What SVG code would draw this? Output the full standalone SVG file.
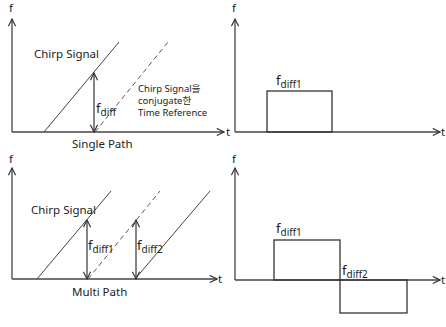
<svg xmlns="http://www.w3.org/2000/svg" width="446" height="327" viewBox="0 0 446 327">
<defs>
<marker id="chev" viewBox="0 0 10 10" refX="9" refY="5" markerWidth="9" markerHeight="9" markerUnits="userSpaceOnUse" orient="auto-start-reverse">
<path d="M1,1 L9,5 L1,9" fill="none" stroke="#333" stroke-width="1.3"/>
</marker>
</defs>
<style>
.ax{stroke:#444;stroke-width:1.3;fill:none;marker-end:url(#chev)}
.ln{stroke:#444;stroke-width:1;fill:none}
.da{stroke:#555;stroke-width:1;fill:none;stroke-dasharray:5,3.5}
.ar{stroke:#444;stroke-width:1.3;fill:none;marker-start:url(#chev);marker-end:url(#chev)}
.rc{stroke:#333;stroke-width:1.3;fill:none}
text{font-family:"Noto Sans","Noto Sans CJK KR",sans-serif;fill:#222}
.lb{font-size:11.5px}
.sm{font-size:9.5px}
.ff{font-size:13px}
.sub{font-size:10px}
</style>
<g id="connectors">
<line class="ax" x1="12" y1="132" x2="12" y2="19"/>
<line class="ax" x1="12" y1="132" x2="224" y2="132"/>
<line class="ln" x1="44" y1="132" x2="119" y2="42"/>
<line class="da" x1="95" y1="132" x2="168" y2="42"/>
<line class="ar" x1="94" y1="73" x2="94" y2="132"/>
<line class="ax" x1="235" y1="132" x2="235" y2="19"/>
<line class="ax" x1="235" y1="132" x2="440" y2="132"/>
<line class="ax" x1="12" y1="279" x2="12" y2="168"/>
<line class="ax" x1="12" y1="279" x2="217" y2="279"/>
<line class="ln" x1="37" y1="279" x2="111" y2="191"/>
<line class="da" x1="88" y1="279" x2="160" y2="191"/>
<line class="ln" x1="135" y1="279" x2="210" y2="191"/>
<line class="ar" x1="87" y1="220" x2="87" y2="279"/>
<line class="ar" x1="136" y1="220" x2="136" y2="279"/>
<line class="ax" x1="235" y1="280" x2="235" y2="168"/>
<line class="ax" x1="235" y1="280" x2="440" y2="280"/>
</g>
<g id="top-left-labels">
<text class="lb" x="9" y="12">f</text>
<text class="lb" x="226" y="136">t</text>
<text class="lb" x="34" y="58">Chirp Signal</text>
<text x="96" y="113"><tspan class="ff">f</tspan><tspan class="sub" dy="3">diff</tspan></text>
<text class="sm" x="138" y="92">Chirp Signal을</text>
<text class="sm" x="138" y="104">conjugate한</text>
<text class="sm" x="138" y="116">Time Reference</text>
<text class="lb" x="72" y="148">Single Path</text>
</g>
<g id="top-right">
<text class="lb" x="232" y="12">f</text>
<text class="lb" x="441" y="136">t</text>
<rect class="rc" x="267" y="91" width="65" height="41"/>
<text x="276" y="85"><tspan class="ff">f</tspan><tspan class="sub" dy="3">diff1</tspan></text>
</g>
<g id="bottom-left-labels">
<text class="lb" x="9" y="163">f</text>
<text class="lb" x="218" y="283">t</text>
<text class="lb" x="31" y="214">Chirp Signal</text>
<text x="88" y="250"><tspan class="ff">f</tspan><tspan class="sub" dy="3">diff1</tspan></text>
<text x="137" y="250"><tspan class="ff">f</tspan><tspan class="sub" dy="3">diff2</tspan></text>
<text class="lb" x="72" y="296">Multi Path</text>
</g>
<g id="bottom-right">
<text class="lb" x="232" y="163">f</text>
<text class="lb" x="441" y="284">t</text>
<rect class="rc" x="274" y="240" width="66" height="40"/>
<rect class="rc" x="340" y="280" width="67" height="33"/>
<text x="276" y="233"><tspan class="ff">f</tspan><tspan class="sub" dy="3">diff1</tspan></text>
<text x="342" y="275"><tspan class="ff">f</tspan><tspan class="sub" dy="3">diff2</tspan></text>
</g>
</svg>
